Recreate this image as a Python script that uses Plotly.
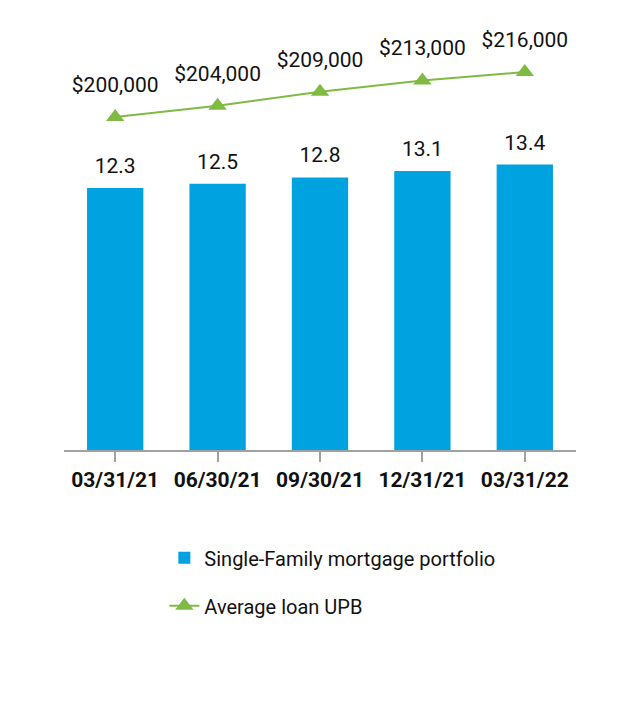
import plotly.graph_objects as go

categories = ["03/31/21", "06/30/21", "09/30/21", "12/31/21", "03/31/22"]
portfolio = [12.3, 12.5, 12.8, 13.1, 13.4]
avg_upb = [200000, 204000, 209000, 213000, 216000]
upb_labels = ["$200,000", "$204,000", "$209,000", "$213,000", "$216,000"]

FONT = "Roboto, Liberation Sans, sans-serif"
BLUE = "#00a3e0"
GREEN = "#7fbb42"
TXT = "#111111"

fig = go.Figure()
fig.add_trace(go.Bar(
    x=categories, y=portfolio, name="Single-Family mortgage portfolio",
    marker=dict(color=BLUE, line=dict(width=0)),
    legendgroup="a",
))
# bar value labels
fig.add_trace(go.Scatter(
    x=categories, y=portfolio, mode="markers+text", showlegend=False,
    marker=dict(size=14, color="rgba(0,0,0,0)"),
    text=[f"{v:.1f}" for v in portfolio], textposition="top center",
    textfont=dict(size=21, color=TXT, family=FONT),
    cliponaxis=False, hoverinfo="skip",
))
fig.add_trace(go.Scatter(
    x=categories, y=avg_upb, name="Average loan UPB", yaxis="y2",
    mode="lines+markers",
    line=dict(color=GREEN, width=2),
    marker=dict(symbol="triangle-up", size=16, color=GREEN),
    cliponaxis=False, legendgroup="b",
))
# line value labels
fig.add_trace(go.Scatter(
    x=categories, y=avg_upb, yaxis="y2", mode="markers+text", showlegend=False,
    marker=dict(size=30, color="rgba(0,0,0,0)"),
    text=upb_labels, textposition="top center",
    textfont=dict(size=21, color=TXT, family=FONT),
    cliponaxis=False, hoverinfo="skip",
))

fig.update_layout(
    width=640, height=708,
    margin=dict(l=56, r=72, t=22, b=266),
    paper_bgcolor="white", plot_bgcolor="white",
    font=dict(family=FONT, color=TXT),
    bargap=0.45,
    showlegend=True,
    legend=dict(
        x=0.196, y=-0.21, xanchor="left", yanchor="top",
        orientation="v", traceorder="grouped", tracegroupgap=19,
        font=dict(size=20, family=FONT, color=TXT),
        bgcolor="rgba(0,0,0,0)",
    ),
    xaxis=dict(
        showgrid=False, showline=True, linecolor="#a0a0a0", linewidth=2,
        ticks="outside", ticklen=10, tickcolor="#a0a0a0", tickwidth=2,
        tickangle=0, automargin=False,
        tickfont=dict(size=21, family=FONT, color=TXT, weight="bold"),
    ),
    yaxis=dict(range=[0, 19.72], visible=False, showgrid=False),
    yaxis2=dict(range=[81600, 230933], overlaying="y", visible=False, showgrid=False),
)

fig.write_html("out.html")
